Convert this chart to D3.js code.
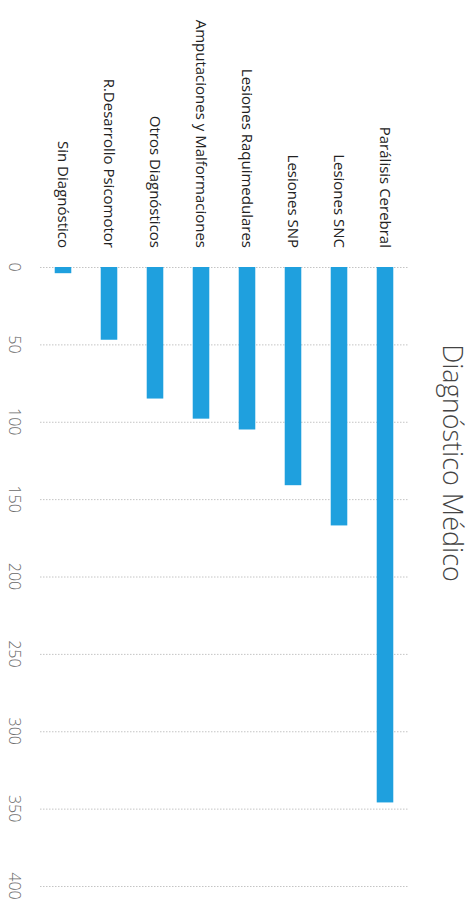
<!DOCTYPE html>
<html>
<head>
<meta charset="utf-8">
<title>Diagnóstico Médico</title>
<script src="https://d3js.org/d3.v7.min.js"></script>
<style>
	html, body {margin: 0; background: #fff; overflow: hidden}
	text {font-family: "Open Sans", sans-serif}
	.grid line {stroke: #c4c4c4; stroke-dasharray: 1.5 1.5}
	.grid path {display: none}
	.cat {fill: #222; font-size: 15px}
	.title {fill: #444; font-size: 27px; font-weight: 300}
</style>
</head>
<body>
<script>
	// categories in drawing order (left to right on the page)
	var categories = ["Sin Diagnóstico", "R.Desarrollo Psicomotor", "Otros Diagnósticos",
		"Amputaciones y Malformaciones", "Lesiones Raquimedulares", "Lesiones SNP",
		"Lesiones SNC", "Parálisis Cerebral"];
	var values = [4, 47, 85, 98, 105, 141, 167, 346];
	var ticks = [0, 50, 100, 150, 200, 250, 300, 350, 400];

	var width = 475, height = 912;

	var svg = d3.select("body").append("svg")
		.attr("width", width)
		.attr("height", height);

	var x = d3.scaleBand()
		.domain(categories)
		.range([40, 408])
		.paddingInner(0.64)
		.paddingOuter(0.32);

	var y = d3.scaleLinear()
		.domain([0, 400])
		.range([267, 886]);

	// gridlines
	svg.append("g")
		.attr("class", "grid")
		.attr("transform", "translate(40,0)")
		.call(d3.axisLeft(y).tickValues(ticks).tickSize(-368).tickFormat(""));

	// value labels, rotated
	svg.append("g")
		.selectAll("text")
		.data(ticks)
		.enter().append("text")
		.attr("transform", function(d){ return "translate(15," + y(d) + ") rotate(90)"; })
		.attr("text-anchor", "middle")
		.attr("dy", "0.35em")
		.style("fill", "#6b6b6b")
		.style("font-size", "16px")
		.style("font-weight", "300")
		.text(function(d){ return d; });

	// bars
	svg.append("g")
		.selectAll("rect")
		.data(values)
		.enter().append("rect")
		.attr("x", function(d, i){ return x(categories[i]); })
		.attr("y", y(0))
		.attr("width", x.bandwidth())
		.attr("height", function(d){ return y(d) - y(0); })
		.attr("fill", "#1fa0de");

	// category labels
	svg.append("g")
		.selectAll("text")
		.data(categories)
		.enter().append("text")
		.attr("class", "cat")
		.attr("transform", function(d){ return "translate(" + (x(d) + x.bandwidth() / 2) + ",248) rotate(90)"; })
		.attr("text-anchor", "end")
		.attr("dy", "0.35em")
		.text(function(d){ return d; });

	svg.append("text")
		.attr("class", "title")
		.attr("transform", "translate(452,463) rotate(90)")
		.attr("text-anchor", "middle")
		.attr("dy", "0.35em")
		.text("Diagnóstico Médico");
</script>
</body>
</html>
